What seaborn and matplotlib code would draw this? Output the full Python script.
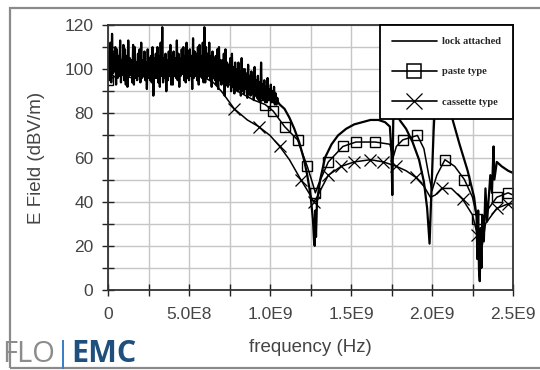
import numpy as np
import matplotlib
matplotlib.use("Agg")
import matplotlib.pyplot as plt
from matplotlib.patches import Rectangle
from matplotlib.lines import Line2D
from matplotlib.ticker import MultipleLocator
import seaborn as sns

GHZ = 1e9

# lock attached: noisy low-frequency part, one sample every 5 MHz (0 .. 1.05 GHz)
lock_noise_freq = np.arange(211) * 0.005
lock_noise = [97, 108, 95, 112, 94, 116, 98, 107, 99, 110, 93, 109, 96, 106, 97, 113, 94, 104, 98, 111,
              95, 109, 93, 106, 92, 113, 97, 105, 98, 104, 94, 111, 93, 110, 96, 103, 95, 107, 97, 109,
              94, 112, 96, 104, 97, 108, 95, 103, 91, 109, 96, 105, 95, 106, 94, 110, 88, 105, 96, 107,
              96, 110, 94, 106, 92, 112, 97, 119, 94, 105, 96, 107, 90, 104, 95, 108, 97, 111, 93, 106,
              93, 108, 97, 105, 96, 113, 95, 107, 92, 105, 97, 109, 98, 110, 95, 106, 94, 112, 96, 108,
              95, 109, 97, 106, 91, 114, 96, 108, 97, 107, 95, 110, 93, 111, 97, 106, 96, 112, 94, 119,
              94, 110, 96, 107, 97, 112, 95, 106, 92, 108, 96, 105, 95, 106, 93, 109, 91, 110, 95, 104,
              93, 104, 94, 107, 88, 109, 93, 103, 92, 102, 94, 105, 90, 107, 92, 101, 89, 103, 91, 100,
              90, 103, 91, 99, 88, 105, 90, 100, 89, 100, 91, 98, 87, 102, 89, 97, 88, 99, 89, 96,
              86, 101, 88, 95, 87, 97, 86, 94, 85, 103, 87, 93, 86, 95, 85, 92, 85, 96, 86, 91,
              86, 93, 85, 90, 85, 92, 84, 89, 84, 87, 85]

# lock attached: upper band (GHz, dBV/m)
lock_freq = [1.06, 1.09, 1.12, 1.15, 1.18, 1.21, 1.23, 1.25, 1.265, 1.272, 1.276,
             1.28, 1.284, 1.29, 1.31, 1.34, 1.38, 1.42, 1.47, 1.52, 1.57, 1.62,
             1.67, 1.71, 1.74, 1.75, 1.755, 1.76, 1.765, 1.78, 1.80, 1.84, 1.88,
             1.92, 1.95, 1.97, 1.985, 1.995, 2.01, 2.03, 2.07, 2.12, 2.17, 2.22,
             2.26, 2.275, 2.28, 2.285, 2.29, 2.295, 2.30, 2.305, 2.31, 2.32, 2.33,
             2.34, 2.36, 2.37, 2.38, 2.385, 2.40, 2.43, 2.47, 2.50]
lock_vals = [84, 82, 78, 73, 67, 59, 52, 43, 32, 22, 20,
             36, 24, 40, 50, 60, 66, 70, 73, 75, 76, 77,
             77, 76, 74, 62, 43, 72, 96, 92, 77, 73, 67,
             59, 49, 37, 21, 42, 72, 100, 100, 79, 66, 54,
             42, 33, 14, 36, 9, 4, 28, 10, 34, 22, 46,
             31, 52, 44, 65, 50, 58, 56, 54, 53]

paste_freq = [0, 0.05, 0.1, 0.15, 0.2, 0.25, 0.3, 0.35, 0.4, 0.45, 0.5, 0.55,
              0.6, 0.65, 0.7, 0.75, 0.8, 0.85, 0.9, 0.97, 1.02, 1.09, 1.17, 1.23,
              1.26, 1.28, 1.30, 1.36, 1.45, 1.53, 1.65, 1.74, 1.76, 1.78, 1.82,
              1.91, 1.95, 1.98, 2.0, 2.03, 2.08, 2.14, 2.2, 2.25, 2.28, 2.30,
              2.33, 2.40, 2.47, 2.5]
paste_vals = [95, 97, 98, 97, 99, 98, 99, 100, 100, 101, 100, 100,
              99, 98, 96, 93, 90, 88, 86, 84, 81, 74, 68, 56,
              49, 44, 48, 58, 65, 67, 67, 66, 60, 65, 68,
              70, 64, 52, 45, 52, 59, 56, 50, 42, 32, 20,
              35, 42, 44, 43]
paste_marks = [0, 0.97, 1.02, 1.09, 1.17, 1.23, 1.28, 1.36,
               1.45, 1.53, 1.65, 1.82, 1.91, 2.08, 2.2, 2.28, 2.40, 2.47]

cassette_freq = [0, 0.05, 0.1, 0.15, 0.2, 0.25, 0.3, 0.35, 0.4, 0.45, 0.5, 0.55,
                 0.6, 0.65, 0.7, 0.78, 0.86, 0.93, 1.0, 1.06, 1.12, 1.19, 1.24,
                 1.27, 1.29, 1.31, 1.36, 1.44, 1.52, 1.62, 1.70, 1.78, 1.84, 1.90,
                 1.95, 1.99, 2.02, 2.06, 2.12, 2.19, 2.25, 2.28, 2.30, 2.33, 2.40,
                 2.47, 2.5]
cassette_vals = [106, 98, 97, 96, 97, 96, 97, 97, 98, 98, 97, 97,
                 96, 94, 90, 82, 77, 74, 70, 65, 59, 50, 44,
                 40, 42, 45, 52, 56, 58, 59, 58, 56, 54, 51,
                 47, 42, 43, 46, 46, 41, 34, 25, 15, 30, 37,
                 39, 39]
cassette_marks = [0, 0.78, 0.93, 1.06, 1.19, 1.27, 1.36, 1.44, 1.52,
                  1.62, 1.70, 1.78, 1.90, 2.06, 2.19, 2.28, 2.40, 2.47]

x_ticks = [0, 0.5, 1.0, 1.5, 2.0, 2.5]
x_tick_labels = ["0", "5.0E8", "1.0E9", "1.5E9", "2.0E9", "2.5E9"]
y_ticks = [0, 20, 40, 60, 80, 100, 120]

sns.set_style("whitegrid")
plt.rcParams["font.family"] = ["Liberation Sans", "DejaVu Sans"]

fig = plt.figure(figsize=(5.4, 3.7), dpi=100)
ax = fig.add_axes([108 / 540, 80 / 370, 405 / 540, 265 / 370])

# paste and cassette first so the noisy lock trace sits on top
sns.lineplot(x=np.array(paste_freq) * GHZ, y=paste_vals, ax=ax, sort=False,
             estimator=None, color="black", lw=1.1, marker="s", ms=7,
             mfc="none", mec="black", mew=1.0,
             markevery=[paste_freq.index(f) for f in paste_marks])
sns.lineplot(x=np.array(cassette_freq) * GHZ, y=cassette_vals, ax=ax, sort=False,
             estimator=None, color="black", lw=1.1, marker="x", ms=8,
             mec="black", mew=0.9,
             markevery=[cassette_freq.index(f) for f in cassette_marks])
lock_x = np.concatenate([lock_noise_freq, lock_freq]) * GHZ
lock_y = np.concatenate([lock_noise, lock_vals])
sns.lineplot(x=lock_x, y=lock_y, ax=ax, sort=False, estimator=None,
             color="black", lw=1.6)

ax.set_xlim(0, 2.5 * GHZ)
ax.set_ylim(0, 120)
ax.set_xticks(np.array(x_ticks) * GHZ, x_tick_labels)
ax.set_yticks(y_ticks)
ax.xaxis.set_minor_locator(MultipleLocator(0.25 * GHZ))
ax.yaxis.set_minor_locator(MultipleLocator(10))
ax.grid(which="both", color="#c6c6c6", lw=1.0)
ax.tick_params(which="both", direction="inout", length=9, width=1.0,
               color="#222222", labelsize=12.5, labelcolor="#444444")
ax.tick_params(axis="x", which="both", pad=8)
ax.tick_params(axis="y", which="both", pad=6)
ax.tick_params(which="both", bottom=True, left=True, top=False, right=False)
for s in ax.spines.values():
    s.set_color("#333333")
    s.set_linewidth(1.3)
ax.set_xlabel("frequency (Hz)", fontsize=13.5, color="#444444", labelpad=12)
ax.set_ylabel("E Field (dBV/m)", fontsize=13.5, color="#444444", labelpad=14)

handles = [Line2D([], [], color="black", lw=1.2),
           Line2D([], [], color="black", lw=1.2, marker="s", ms=10, mfc="none", mew=1.1),
           Line2D([], [], color="black", lw=1.2, marker="x", ms=11, mew=0.9)]
leg = ax.legend(handles, ["lock attached", "paste type", "cassette type"],
                loc="upper right", borderaxespad=0, fancybox=False,
                framealpha=1, edgecolor="black", handlelength=4.3,
                labelspacing=2.0, borderpad=1.15, handletextpad=0.5,
                prop={"family": "Liberation Serif", "weight": "bold", "size": 7.5})
leg.get_frame().set_linewidth(1.3)

# outer grey frame
fig.patches.append(Rectangle((10 / 540, 2 / 370), 1.2, 360 / 370,
                             transform=fig.transFigure, fill=False,
                             edgecolor="#8a8a8a", lw=1.6))

# logo
fig.canvas.draw()
r = fig.canvas.get_renderer()
t1 = fig.text(2 / 540, 8 / 370, "FLO", fontsize=21, color="#8c8c8c",
              family="Open Sans")
fig.canvas.draw()
x = t1.get_window_extent(r).x1 / 540
t2 = fig.text(x, 8 / 370, "|", fontsize=21, color="#3c7fc4", family="Open Sans")
fig.canvas.draw()
x = t2.get_window_extent(r).x1 / 540
fig.text(x, 8 / 370, "EMC", fontsize=22, color="#1f4f7d", family="Open Sans",
         weight="bold")

fig.savefig("out.png", dpi=100)
